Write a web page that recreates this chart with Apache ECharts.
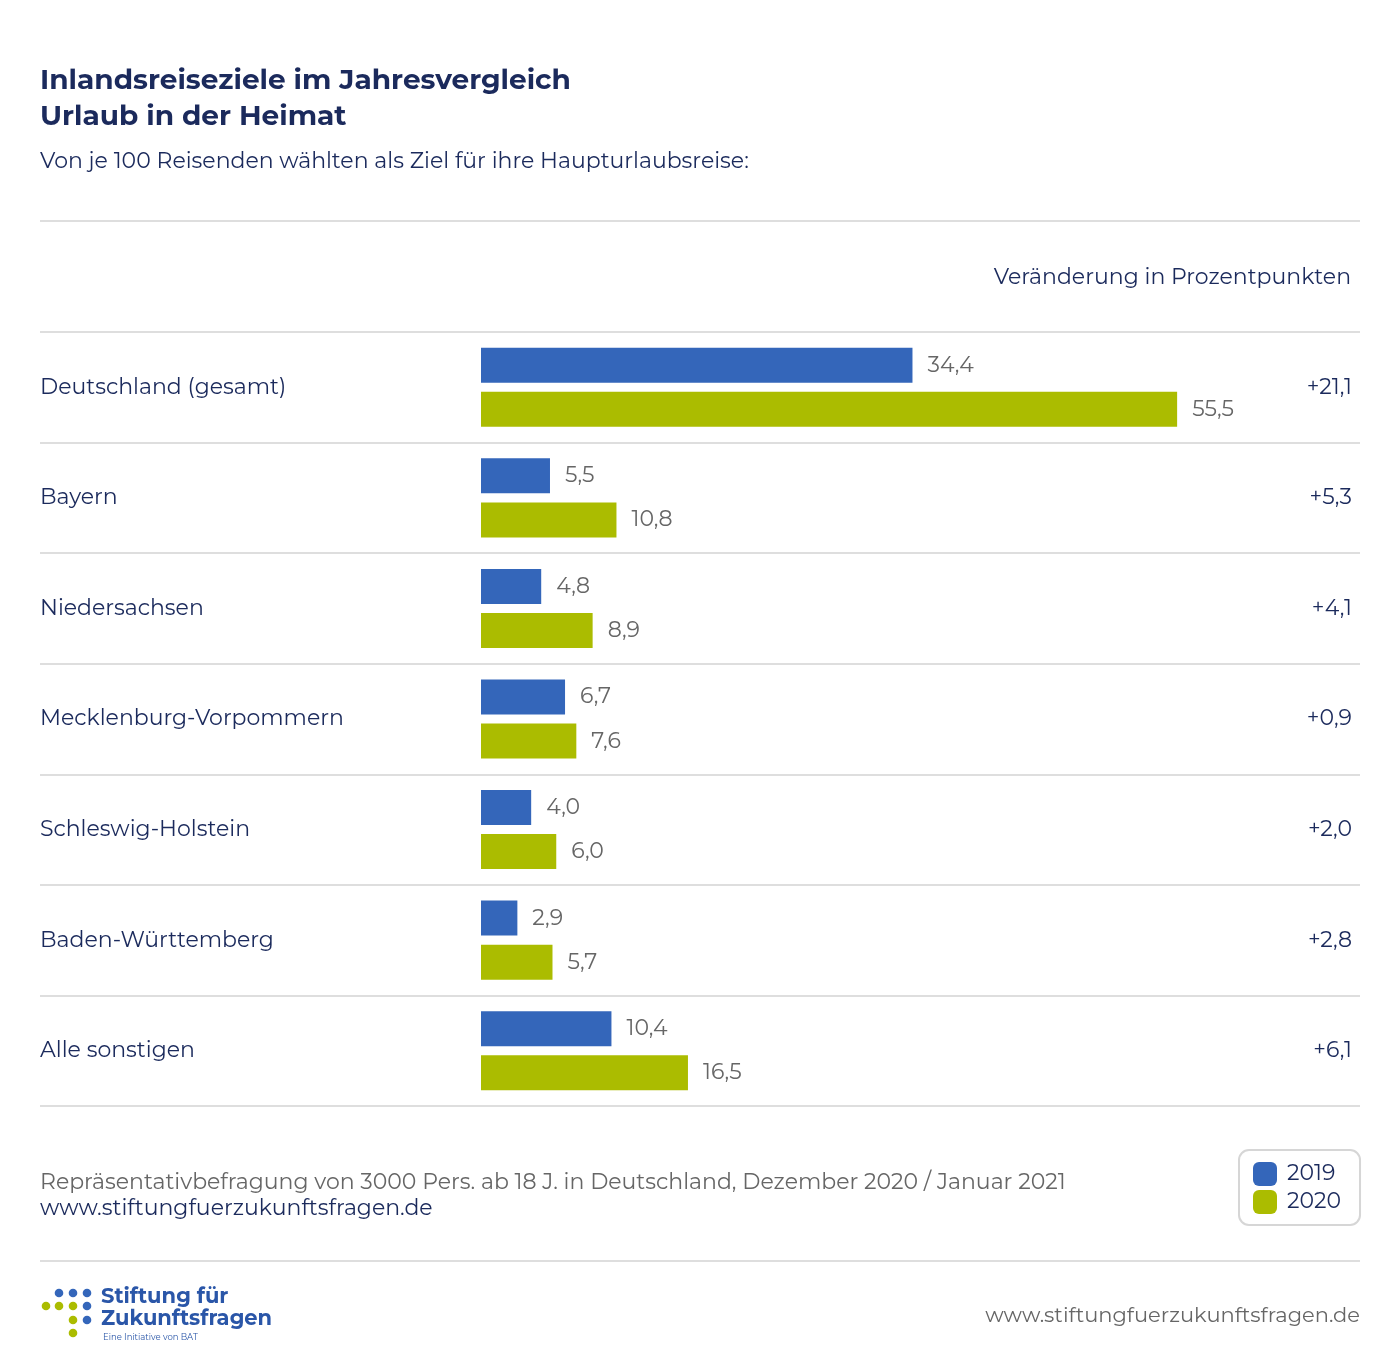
<!DOCTYPE html>
<html>
<head>
<meta charset="utf-8">
<script src="https://cdn.jsdelivr.net/npm/echarts@6/dist/echarts.min.js"></script>
<style>
  html, body { margin: 0; padding: 0; background: #fff; }
  #chart { width: 1400px; height: 1370px; }
</style>
</head>
<body>
<div id="chart"></div>
<script>
// data
var regions = ['Deutschland (gesamt)', 'Bayern', 'Niedersachsen', 'Mecklenburg-Vorpommern',
  'Schleswig-Holstein', 'Baden-Württemberg', 'Alle sonstigen'];
var values2019 = [34.4, 5.5, 4.8, 6.7, 4.0, 2.9, 10.4];
var values2020 = [55.5, 10.8, 8.9, 7.6, 6.0, 5.7, 16.5];
var changes = ['+21,1', '+5,3', '+4,1', '+0,9', '+2,0', '+2,8', '+6,1'];

var FONT = 'Montserrat, "DejaVu Sans", sans-serif';
var NAVY = '#1b2a5c';
var GREY = '#666666';
var BLUE = '#3466ba';
var GREEN = '#abbc00';
var LINE = '#dedede';

function fmt(v) {
  return v.toFixed(1).replace('.', ',');
}

var chart = echarts.init(document.getElementById('chart'), null, { renderer: 'canvas' });

var logoDots = [
  [59, 1293, BLUE], [73, 1293, BLUE], [87, 1293, BLUE],
  [46, 1306, GREEN], [59, 1306, GREEN], [73, 1306, GREEN], [87, 1306, BLUE],
  [73, 1320, GREEN], [87, 1320, BLUE],
  [73, 1333, GREEN]
];

var graphics = [
  { type: 'text', left: 40, top: 67, style: { text: 'Inlandsreiseziele im Jahresvergleich', font: 'bold 28px ' + FONT, fill: NAVY } },
  { type: 'text', left: 40, top: 103, style: { text: 'Urlaub in der Heimat', font: 'bold 28px ' + FONT, fill: NAVY } },
  { type: 'text', left: 40, top: 151, style: { text: 'Von je 100 Reisenden wählten als Ziel für ihre Haupturlaubsreise:', font: '22px ' + FONT, fill: NAVY } },
  { type: 'line', shape: { x1: 40, y1: 221, x2: 1360, y2: 221 }, style: { stroke: LINE, lineWidth: 2 } },
  { type: 'text', right: 49, top: 267, style: { text: 'Veränderung in Prozentpunkten', font: '22px ' + FONT, fill: NAVY } },
  { type: 'text', left: 40, top: 1172, style: { text: 'Repräsentativbefragung von 3000 Pers. ab 18 J. in Deutschland, Dezember 2020 / Januar 2021', font: '22px ' + FONT, fill: GREY } },
  { type: 'text', left: 40, top: 1198, style: { text: 'www.stiftungfuerzukunftsfragen.de', font: '22px ' + FONT, fill: NAVY } },
  { type: 'line', shape: { x1: 40, y1: 1261, x2: 1360, y2: 1261 }, style: { stroke: LINE, lineWidth: 2 } },
  { type: 'text', right: 40, top: 1305, style: { text: 'www.stiftungfuerzukunftsfragen.de', font: '21px ' + FONT, fill: GREY } },
  { type: 'text', left: 101, top: 1286, style: { text: 'Stiftung für', font: 'bold 21px ' + FONT, fill: '#2a56a8' } },
  { type: 'text', left: 101, top: 1308, style: { text: 'Zukunftsfragen', font: 'bold 21px ' + FONT, fill: '#2a56a8' } },
  { type: 'text', left: 103, top: 1333, style: { text: 'Eine Initiative von BAT', font: '8.5px ' + FONT, fill: '#2a56a8' } }
];
logoDots.forEach(function (d) {
  graphics.push({ type: 'circle', shape: { cx: d[0], cy: d[1], r: 4.3 }, style: { fill: d[2] } });
});

var option = {
  animation: false,
  backgroundColor: '#ffffff',
  textStyle: { fontFamily: FONT },
  graphic: graphics,
  legend: {
    data: ['2019', '2020'],
    orient: 'vertical',
    left: 1239,
    top: 1150,
    width: 120,
    padding: [12, 19, 11, 14],
    itemWidth: 24,
    itemHeight: 24,
    itemGap: 4,
    borderColor: '#d6d6d6',
    borderWidth: 2,
    borderRadius: 10,
    icon: 'roundRect',
    textStyle: { fontSize: 22, color: NAVY, fontFamily: FONT, padding: [0, 0, 0, 5] }
  },
  grid: [
    { left: 481, right: 41, top: 332, bottom: 264, containLabel: false },
    { left: 40, right: 40, top: 332, bottom: 264, containLabel: false }
  ],
  xAxis: [
    { type: 'value', gridIndex: 0, min: 0, max: 70, show: false },
    { type: 'value', gridIndex: 1, min: 0, max: 1, show: false }
  ],
  yAxis: [
    {
      type: 'category', gridIndex: 0, data: regions, inverse: true,
      axisLine: { show: false }, axisTick: { show: false }, splitLine: { show: false },
      axisLabel: { align: 'left', margin: 441, fontSize: 22, color: NAVY, fontFamily: FONT, padding: [4, 0, 0, 0] }
    },
    {
      type: 'category', gridIndex: 0, data: changes, inverse: true, position: 'right',
      axisLine: { show: false }, axisTick: { show: false }, splitLine: { show: false },
      axisLabel: { inside: true, margin: 7, fontSize: 22, color: NAVY, fontFamily: FONT, padding: [4, 0, 0, 0] }
    },
    {
      type: 'category', gridIndex: 1, data: regions, inverse: true,
      axisLine: { show: false }, axisTick: { show: false }, axisLabel: { show: false },
      splitLine: { show: true, lineStyle: { color: LINE, width: 2 } }
    }
  ],
  series: [
    {
      name: '2019', type: 'bar', xAxisIndex: 0, yAxisIndex: 0, data: values2019,
      barWidth: 35, barGap: '26%',
      itemStyle: { color: BLUE },
      label: { show: true, position: 'right', distance: 15, fontSize: 22, color: GREY, fontFamily: FONT,
        formatter: function (p) { return fmt(p.value); } }
    },
    {
      name: '2020', type: 'bar', xAxisIndex: 0, yAxisIndex: 0, data: values2020,
      barWidth: 35, barGap: '26%',
      itemStyle: { color: GREEN },
      label: { show: true, position: 'right', distance: 15, fontSize: 22, color: GREY, fontFamily: FONT,
        formatter: function (p) { return fmt(p.value); } }
    }
  ]
};

chart.setOption(option);
</script>
</body>
</html>
